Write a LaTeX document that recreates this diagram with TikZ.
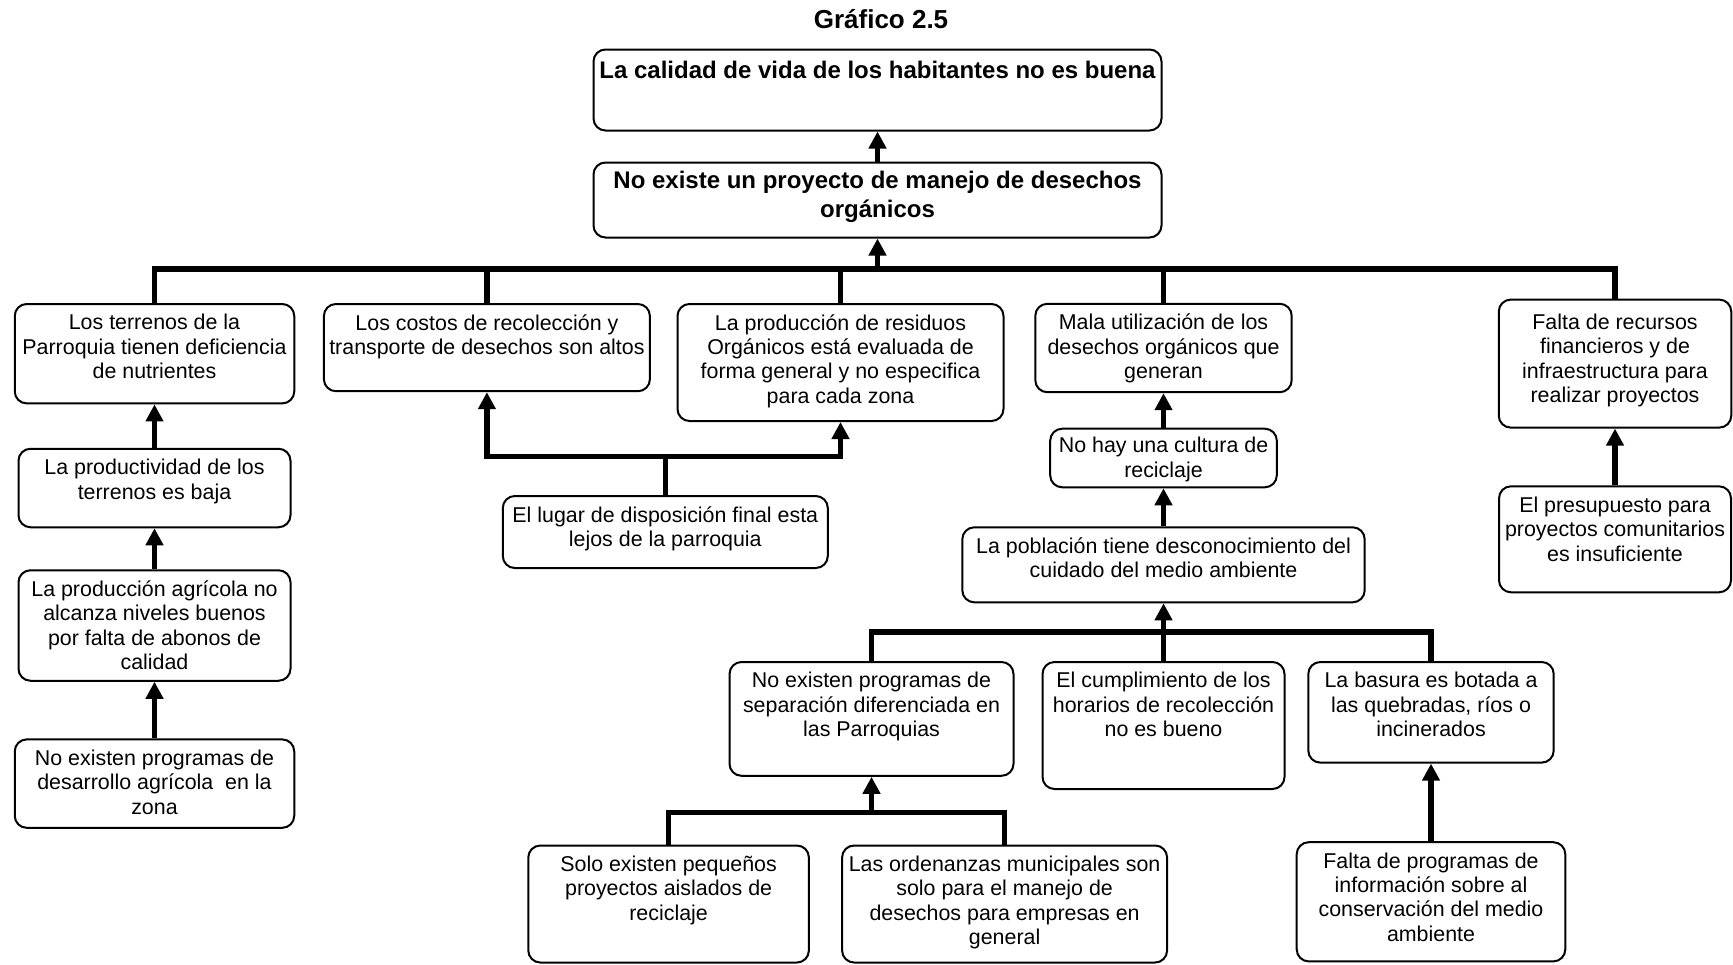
\documentclass[tikz,border=0pt]{standalone}
\usepackage{fontspec}
\setmainfont{Liberation Sans}
\usetikzlibrary{arrows.meta}
\tikzset{
    caja/.style={draw, line width=1pt, rounded corners=6pt, inner sep=0pt},
    txt/.style={anchor=north, align=center, inner sep=0pt, yshift=-5.5pt,
    font=\fontsize{10.7}{12.2}\selectfont},
    txtb/.style={txt, yshift=0.8pt, font=\bfseries\fontsize{12}{14.4}\selectfont},
    linea/.style={line width=2.8pt},
    flecha/.style={linea, -{Triangle[width=8.5pt,length=8.5pt]}}
}
\begin{document}
\begin{tikzpicture}[x=0.5pt, y=-0.5pt]
    \useasboundingbox (0,0) rectangle (1733,964);

    \node[font=\bfseries\fontsize{13}{15}\selectfont] (titulo) at (881,19) {Gráfico 2.5};

    \node[caja, minimum width=284pt, minimum height=40.5pt] (efecto) at (877.5,90) {};
    \node[txtb, yshift=-1.5pt] at (efecto.north) {La calidad de vida de los habitantes no es buena};
    \node[caja, minimum width=284pt, minimum height=37.5pt] (problema) at (877.5,200) {};
    \node[txtb] at (problema.north) {No existe un proyecto de manejo de desechos\\orgánicos};

    \node[caja, minimum width=139.75pt, minimum height=49.7pt] (terrenos) at (154.5,353.7) {};
    \node[txt] at (terrenos.north) {Los terrenos de la\\Parroquia tienen deficiencia\\de nutrientes};
    \node[caja, minimum width=163pt, minimum height=43.6pt] (costos) at (486.9,347.6) {};
    \node[txt] at (costos.north) {Los costos de recolección y\\transporte de desechos son altos};
    \node[caja, minimum width=163pt, minimum height=58.5pt] (residuos) at (840.5,362.5) {};
    \node[txt] at (residuos.north) {La producción de residuos\\Orgánicos está evaluada de\\forma general y no especifica\\para cada zona};
    \node[caja, minimum width=128.2pt, minimum height=44.2pt] (mala) at (1163.5,348) {};
    \node[txt] at (mala.north) {Mala utilización de los\\desechos orgánicos que\\generan};
    \node[caja, minimum width=116.25pt, minimum height=64pt] (recursos) at (1615,363.6) {};
    \node[txt, yshift=-2pt] at (recursos.north) {Falta de recursos\\financieros y de\\infraestructura para\\realizar proyectos};

    \node[caja, minimum width=136pt, minimum height=39.25pt] (productividad) at (154.5,488) {};
    \node[txt] at (productividad.north) {La productividad de los\\terrenos es baja};
    \node[caja, minimum width=136pt, minimum height=55.25pt] (agricola) at (154.5,625.5) {};
    \node[txt] at (agricola.north) {La producción agrícola no\\alcanza niveles buenos\\por falta de abonos de\\calidad};
    \node[caja, minimum width=139.75pt, minimum height=44.2pt] (desarrollo) at (154.5,783.6) {};
    \node[txt] at (desarrollo.north) {No existen programas de\\desarrollo agrícola\ \ en la\\zona};

    \node[caja, minimum width=162.5pt, minimum height=36pt] (lugar) at (665.3,532) {};
    \node[txt] at (lugar.north) {El lugar de disposición final esta\\lejos de la parroquia};

    \node[caja, minimum width=113.3pt, minimum height=29.3pt] (cultura) at (1163.5,458) {};
    \node[txt, yshift=1pt] at (cultura.north) {No hay una cultura de\\reciclaje};
    \node[caja, minimum width=201.2pt, minimum height=37.5pt] (poblacion) at (1163.5,564.8) {};
    \node[txt] at (poblacion.north) {La población tiene desconocimiento del\\cuidado del medio ambiente};

    \node[caja, minimum width=142pt, minimum height=56.9pt] (separacion) at (871.5,718.9) {};
    \node[txt] at (separacion.north) {No existen programas de\\separación diferenciada en\\las Parroquias};
    \node[caja, minimum width=121pt, minimum height=63.5pt] (horarios) at (1163.5,725.5) {};
    \node[txt] at (horarios.north) {El cumplimiento de los\\horarios de recolección\\no es bueno};
    \node[caja, minimum width=122.7pt, minimum height=50.3pt] (basura) at (1431,712.3) {};
    \node[txt] at (basura.north) {La basura es botada a\\las quebradas, ríos o\\incinerados};

    \node[caja, minimum width=140.3pt, minimum height=58.5pt] (aislados) at (668.6,904) {};
    \node[txt] at (aislados.north) {Solo existen pequeños\\proyectos aislados de\\reciclaje};
    \node[caja, minimum width=162.5pt, minimum height=58.5pt] (ordenanzas) at (1004.6,904) {};
    \node[txt] at (ordenanzas.north) {Las ordenanzas municipales son\\solo para el manejo de\\desechos para empresas en\\general};
    \node[caja, minimum width=134.3pt, minimum height=59.6pt] (informacion) at (1431,901.8) {};
    \node[txt] at (informacion.north) {Falta de programas de\\información sobre al\\conservación del medio\\ambiente};

    \node[caja, minimum width=116pt, minimum height=53pt] (presupuesto) at (1615,539.3) {};
    \node[txt] at (presupuesto.north) {El presupuesto para\\proyectos comunitarios\\es insuficiente};

    \coordinate (bus) at (877.5,269);
    \coordinate (cruce) at (665.3,456.4);
    \coordinate (bus2) at (1163.5,632.2);
    \coordinate (bus3) at (871.5,812.3);

    \draw[flecha] (problema) -- (efecto);
    \draw[linea] (terrenos.north) |- (bus) -| (recursos.north);
    \draw[linea] (costos.north) |- (bus);
    \draw[linea] (residuos.north) |- (bus);
    \draw[linea] (mala.north) |- (bus);
    \draw[flecha] (bus) -- (problema);

    \draw[flecha] (productividad) -- (terrenos);
    \draw[flecha] (agricola) -- (productividad);
    \draw[flecha] (desarrollo) -- (agricola);

    \draw[linea] (lugar.north) -- (cruce);
    \draw[flecha] (cruce) -| (costos.south);
    \draw[flecha] (cruce) -| (residuos.south);

    \draw[flecha] (cultura) -- (mala);
    \draw[flecha] (poblacion) -- (cultura);
    \draw[linea] (separacion.north) |- (bus2) -| (basura.north);
    \draw[linea] (horarios.north) -- (bus2);
    \draw[flecha] (bus2) -- (poblacion);

    \draw[linea] (aislados.north) |- (bus3) -| (ordenanzas.north);
    \draw[flecha] (bus3) -- (separacion);
    \draw[flecha] (informacion) -- (basura);

    \draw[flecha] (presupuesto) -- (recursos);
\end{tikzpicture}
\end{document}
